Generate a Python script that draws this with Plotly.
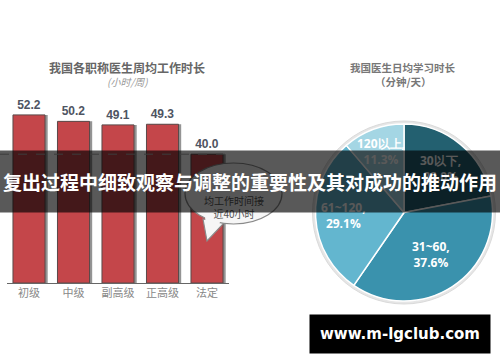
import math
import plotly.graph_objects as go

W, H = 500, 362

# ---- data ----
bar_categories = ["初级", "中级", "副高级", "正高级", "法定"]
bar_values = [52.2, 50.2, 49.1, 49.3, 40.0]

pie_labels = ["30以下", "31~60", "61~120", "120以上"]
pie_values = [22.0, 37.6, 29.1, 11.3]
pie_colors = ["#236070", "#3a92ad", "#63b6cf", "#a4d6e4"]
pie_label_radius = [0.65, 0.56, 0.69, 0.74]   # style: fraction of radius for labels

left_title = "我国各职称医生周均工作时长"
left_unit = "(小时/周)"
right_title = "我国医生日均学习时长"
right_unit = "（分钟/天）"
bubble_text = "均工作时间接<br>近40小时"
banner_text = "复出过程中细致观察与调整的重要性及其对成功的推动作用"
watermark = "www.m-lgclub.com"
statutory_hours = 40


def px(x):
    return x / W


def py(y):
    return 1 - y / H


CJK = "Noto Sans CJK SC, Noto Sans, sans-serif"

# pie geometry (pixels)
PIE_CX, PIE_CY, PIE_R = 404, 212.5, 88.5

fig = go.Figure()

# bar shadow
fig.add_trace(go.Bar(
    x=bar_categories, y=bar_values,
    width=0.72, offset=-0.36 + 0.06,
    marker=dict(color="rgba(60,60,60,0.55)", line=dict(width=0)),
    hoverinfo="skip", showlegend=False,
))
# main bars
fig.add_trace(go.Bar(
    x=bar_categories, y=bar_values,
    width=0.72, offset=-0.36,
    marker=dict(color="#c4464a", line=dict(color="#5a4a4a", width=1)),
    text=[f"<b>{v:.1f}</b>" for v in bar_values],
    textposition="outside",
    cliponaxis=False,
    textfont=dict(family="Liberation Sans Narrow, Liberation Sans, Arial", size=12, color="#4e5462"),
    showlegend=False,
))

# pie
fig.add_trace(go.Pie(
    labels=pie_labels, values=pie_values,
    sort=False, direction="clockwise", rotation=0,
    marker=dict(colors=pie_colors, line=dict(color="white", width=1.5)),
    textinfo="none",
    domain=dict(x=[px(PIE_CX - PIE_R), px(PIE_CX + PIE_R)],
                y=[py(PIE_CY + PIE_R), py(PIE_CY - PIE_R)]),
    showlegend=False,
))

shapes = []
# outer light ring of pie
shapes.append(dict(type="circle", xref="paper", yref="paper",
                   x0=px(PIE_CX - PIE_R - 3), x1=px(PIE_CX + PIE_R + 3),
                   y0=py(PIE_CY + PIE_R + 3), y1=py(PIE_CY - PIE_R - 3),
                   fillcolor="#e6e6e6", line=dict(color="#dadada", width=1), layer="below"))
# dashed statutory line
shapes.append(dict(type="line", xref="paper", yref="y",
                   x0=0, x1=px(234), y0=statutory_hours, y1=statutory_hours,
                   line=dict(color="#aaaaaa", width=1, dash="dash"), layer="above"))
# bubble tail
shapes.append(dict(type="path", xref="paper", yref="paper",
                   path=f"M {px(203)} {py(219)} L {px(207)} {py(241)} L {px(224)} {py(223)} Z",
                   fillcolor="#f6f6f6", line=dict(color="#8a8a8a", width=1.2), layer="above"))
# bubble ellipse
shapes.append(dict(type="circle", xref="paper", yref="paper",
                   x0=px(185), x1=px(282), y0=py(224), y1=py(163),
                   fillcolor="#f6f6f6", line=dict(color="#8a8a8a", width=1.2), layer="above"))
# patch hiding ellipse border at tail base
shapes.append(dict(type="path", xref="paper", yref="paper",
                   path=f"M {px(205)} {py(217)} L {px(207.5)} {py(238)} L {px(221)} {py(221)} Z",
                   fillcolor="#f6f6f6", line=dict(width=0), layer="above"))

annotations = []

# pie labels from cumulative data angles
total = sum(pie_values)
cum = 0.0
for lab, val, rf in zip(pie_labels, pie_values, pie_label_radius):
    mid = (cum + val / 2) / total * 2 * math.pi
    cum += val
    lx = PIE_CX + rf * PIE_R * math.sin(mid)
    ly = PIE_CY - rf * PIE_R * math.cos(mid)
    annotations.append(dict(
        text=f"<b>{lab},<br>{val:.1f}%</b>", x=px(lx), y=py(ly), xref="paper", yref="paper",
        xanchor="center", yanchor="middle", showarrow=False,
        font=dict(family="Open Sans, DejaVu Sans", size=12, color="white")))

annotations += [
    dict(text=f"<b>{left_title}</b>", x=px(127), y=py(68),
         font=dict(family=CJK, size=12, color="#666666")),
    dict(text=f"<i>{left_unit}</i>", x=px(127), y=py(82),
         font=dict(family=CJK, size=10, color="#999999")),
    dict(text=f"<b>{right_title}</b>", x=px(403), y=py(68),
         font=dict(family=CJK, size=10.5, color="#777777")),
    dict(text=f"<b>{right_unit}</b>", x=px(403), y=py(82),
         font=dict(family=CJK, size=10.5, color="#777777")),
    dict(text=bubble_text, x=px(234), y=py(207),
         font=dict(family=CJK, size=10, color="#555555")),
    # banner
    dict(text=f"<b>{banner_text}</b>", x=0.5, y=py(181.5),
         width=500, height=61, bgcolor="rgba(0,0,0,0.65)", borderpad=0,
         font=dict(family=CJK, size=19, color="white")),
    # watermark
    dict(text=f"<b>{watermark}</b>", x=px(400), y=py(334),
         width=180, height=38, bgcolor="black", borderpad=0,
         font=dict(family="DejaVu Sans, Verdana", size=15, color="white")),
]
for a in annotations[len(pie_labels):]:
    a.update(xref="paper", yref="paper", xanchor="center", yanchor="middle", showarrow=False)

fig.update_layout(
    width=W, height=H,
    margin=dict(l=0, r=0, t=0, b=0),
    paper_bgcolor="white", plot_bgcolor="white",
    barmode="overlay",
    xaxis=dict(domain=[px(6.75), px(229.25)], range=[-0.5, 4.5], type="category",
               showline=True, linecolor="#666666", linewidth=1.2, ticks="",
               showgrid=False, zeroline=False,
               tickfont=dict(family=CJK, size=11, color="#888888")),
    yaxis=dict(domain=[py(283), py(89.8)], range=[0, 60], visible=False, showgrid=False),
    shapes=shapes,
    annotations=annotations,
)

fig.write_html("out.html", config={"displayModeBar": False},
               post_script="document.body.style.margin='0px';")
